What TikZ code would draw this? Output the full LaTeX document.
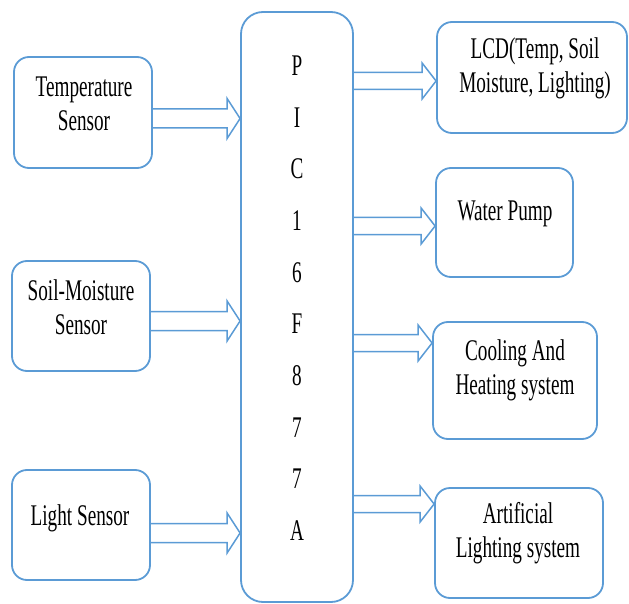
\documentclass[tikz,border=0pt]{standalone}
\usepackage{fontspec}
\setmainfont{Liberation Serif}[FakeStretch=0.64]
\usetikzlibrary{calc}
\definecolor{bl}{RGB}{91,155,213}
\newcommand\blockarr[5]{%
  \draw[arr] ($(#1)+(0,#3)$) -- ($(#2)+(-#5,#3)$) -- ($(#2)+(-#5,#4)$) -- (#2)
    -- ($(#2)+(-#5,-#4)$) -- ($(#2)+(-#5,-#3)$) -- ($(#1)+(0,-#3)$);}
\begin{document}
\begin{tikzpicture}[x=1pt,y=-1pt,
  box/.style={draw=bl, line width=1.8pt, rounded corners=15pt, inner sep=0pt},
  arr/.style={draw=bl, line width=1.5pt, line join=miter},
  lbl/.style={align=center, inner sep=0pt, font=\fontsize{30}{34}\selectfont},
  ]
\useasboundingbox (0,0) rectangle (629,604);
% boxes
\node[box, minimum width=138pt, minimum height=111pt] (tmp) at (83,112.5) {};
\node[box, minimum width=138pt, minimum height=110pt] (soil) at (81,316) {};
\node[box, minimum width=138pt, minimum height=110pt] (light) at (81,525) {};
\node[box, rounded corners=22pt, minimum width=112pt, minimum height=590pt] (pic) at (297,307) {};
\node[box, minimum width=190pt, minimum height=111pt] (lcd) at (532,77.5) {};
\node[box, minimum width=137pt, minimum height=109pt] (wp) at (504.5,222.5) {};
\node[box, minimum width=164pt, minimum height=117pt] (cool) at (515,380.5) {};
\node[box, minimum width=168pt, minimum height=110pt] (art) at (519,543) {};
% labels
\node[lbl] (tmpT) at (84,104) {Temperature\\Sensor};
\node[lbl] (soilT) at (81,307) {Soil-Moisture\\Sensor};
\node[lbl] (lightT) at (80,518) {Light Sensor};
\node[lbl] (lcdT) at (535,68) {LCD(Temp, Soil\\Moisture, Lighting)};
\node[lbl] (wpT) at (505,214) {Water Pump};
\node[lbl] (coolT) at (515,370) {Cooling And\\Heating system};
\node[lbl] (artT) at (518,533) {Artificial\\Lighting system};
\foreach \c [count=\i from 0] in {P,I,C,1,6,F,8,7,7,A}
  \node[lbl] (pc\i) at (297,{66+51.6*\i}) {\c};
% arrow levels
\coordinate (y1) at (0,118.5);
\coordinate (y2) at (0,321);
\coordinate (y3) at (0,533);
\coordinate (y4) at (0,81);
\coordinate (y5) at (0,226);
\coordinate (y6) at (0,343);
\coordinate (y7) at (0,504);
\coordinate (a1) at (tmp.east |- y1);   \coordinate (b1) at (pic.west |- y1);
\coordinate (a2) at (soil.east |- y2);  \coordinate (b2) at (pic.west |- y2);
\coordinate (a3) at (light.east |- y3); \coordinate (b3) at (pic.west |- y3);
\coordinate (a4) at (pic.east |- y4);   \coordinate (b4) at (lcd.west |- y4);
\coordinate (a5) at (pic.east |- y5);   \coordinate (b5) at (wp.west |- y5);
\coordinate (a6) at (pic.east |- y6);   \coordinate (b6) at (cool.west |- y6);
\coordinate (a7) at (pic.east |- y7);   \coordinate (b7) at (art.west |- y7);
\blockarr{a1}{b1}{9.5}{20}{13}
\blockarr{a2}{b2}{9.5}{20}{13}
\blockarr{a3}{b3}{9.5}{20}{13}
\blockarr{a4}{b4}{8.5}{18}{14}
\blockarr{a5}{b5}{8.5}{18}{14}
\blockarr{a6}{b6}{8.5}{18}{14}
\blockarr{a7}{b7}{8.5}{18}{14}
\end{tikzpicture}
\end{document}
